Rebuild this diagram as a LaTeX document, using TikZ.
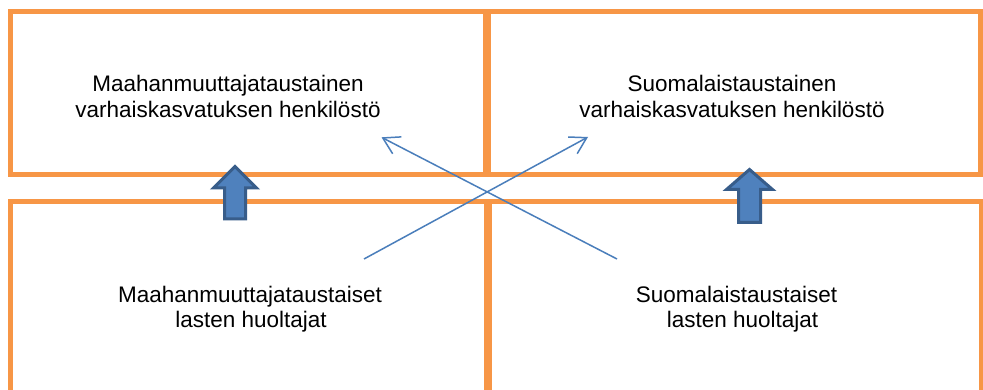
\documentclass[tikz,border=0pt]{standalone}
\usepackage{fontspec}
\setmainfont{Liberation Sans}
\usetikzlibrary{arrows.meta}
\definecolor{boxorange}{HTML}{F79646}
\definecolor{linkblue}{HTML}{4A7EBB}
\definecolor{arrowfill}{HTML}{4F81BD}
\definecolor{arrowedge}{HTML}{385D8A}
\tikzset{
  groupbox/.style={draw=boxorange, line width=5pt, rectangle, inner sep=0pt, outer sep=0pt},
  label/.style={anchor=base, inner sep=0pt, font=\fontsize{22.5}{26}\selectfont},
  link/.style={draw=linkblue, line width=1.5pt, -{Straight Barb[length=16pt,width=19pt]}},
  blockarrow/.style={fill=arrowfill, draw=arrowedge, line width=3pt, line join=miter}
}
\begin{document}
\begin{tikzpicture}[x=1pt,y=-1pt]
\clip (0,0) rectangle (983,390);
\useasboundingbox (0,0) rectangle (983,390);
\fill[white] (0,0) rectangle (983,390);

% four groups
\node[groupbox, minimum width=475pt, minimum height=163pt] (staffimm) at (247.5,93.5) {};
\node[groupbox, minimum width=492pt, minimum height=163pt] (stafffin) at (734,93.5) {};
\node[groupbox, minimum width=476pt, minimum height=220pt] (parimm) at (248,311.5) {};
\node[groupbox, minimum width=492pt, minimum height=220pt] (parfin) at (735,311.5) {};

% labels
\node[label] (t1a) at (228,92) {Maahanmuuttajataustainen};
\node[label] (t1b) at (228,118) {varhaiskasvatuksen henkilöstö};
\node[label] (t2a) at (732,92) {Suomalaistaustainen};
\node[label] (t2b) at (732,118) {varhaiskasvatuksen henkilöstö};
\node[label] (t3a) at (250,302) {Maahanmuuttajataustaiset};
\node[label] (t3b) at (251,327) {lasten huoltajat};
\node[label] (t4a) at (736.5,302) {Suomalaistaustaiset};
\node[label] (t4b) at (742.5,327) {lasten huoltajat};

% block arrows between the rows
\path[blockarrow] (235,166.5) -- (256.5,188) -- (245.5,188) -- (245.5,219)
  -- (224.5,219) -- (224.5,188) -- (213.5,188) -- cycle;
\path[blockarrow] (749.5,169.5) -- (772.5,189.5) -- (760.5,189.5) -- (760.5,222.5)
  -- (738.5,222.5) -- (738.5,189.5) -- (726.5,189.5) -- cycle;

% crossing links
\coordinate (immstart) at (364,259);
\coordinate (finend) at (588,137);
\coordinate (finstart) at (617,259);
\coordinate (immend) at (381.5,137.3);
\draw[link] (immstart) -- (finend);
\draw[link] (finstart) -- (immend);
\end{tikzpicture}
\end{document}
